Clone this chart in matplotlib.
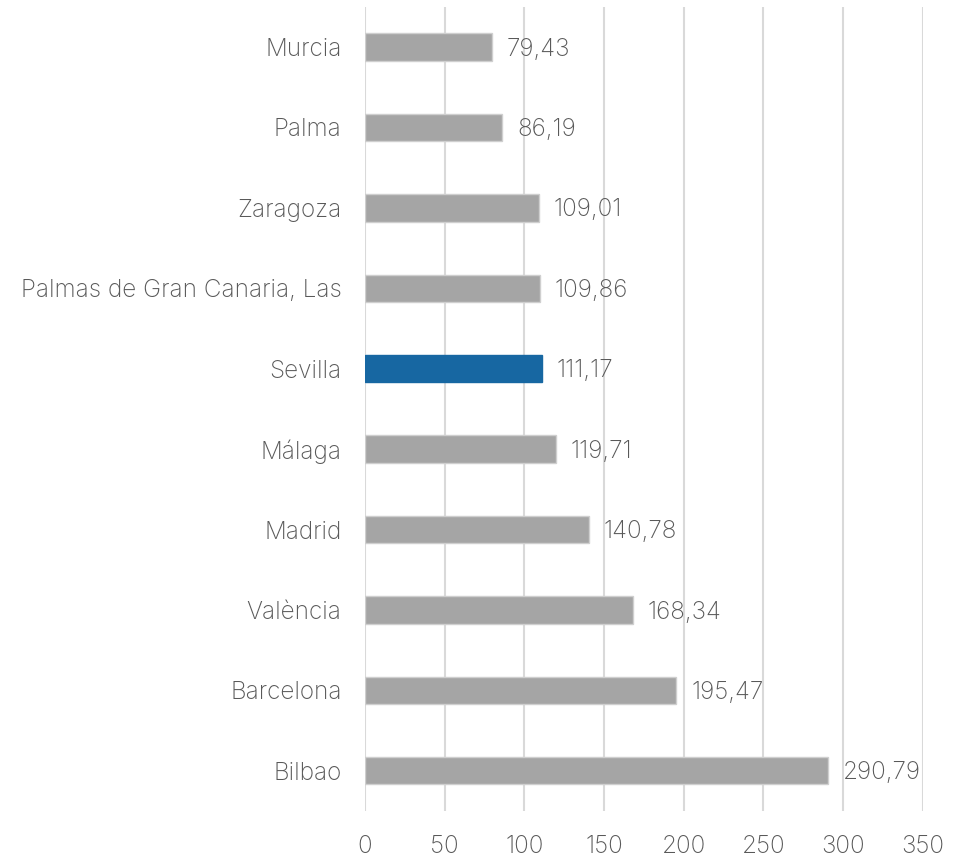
import matplotlib.pyplot as plt
import numpy as np

# Data (bottom to top)
cities = ["Bilbao", "Barcelona", "València", "Madrid", "Málaga", "Sevilla",
          "Palmas de Gran Canaria, Las", "Zaragoza", "Palma", "Murcia"]
values = [290.79, 195.47, 168.34, 140.78, 119.71, 111.17,
          109.86, 109.01, 86.19, 79.43]
highlight = "Sevilla"
x_ticks = [0, 50, 100, 150, 200, 250, 300, 350]

plt.rcParams['font.family'] = ['Inter', 'DejaVu Sans']

grey = "#A5A5A5"
blue = "#1767A2"
text_col = "#595959"
fsize = 17.5

fig = plt.figure(figsize=(9.66, 8.57), dpi=100)
ax = fig.add_axes([0.378, 0.0537, 0.577, 0.9383])

y = np.arange(len(cities))
colors = [blue if c == highlight else grey for c in cities]
edges = [blue if c == highlight else "#CFCFCF" for c in cities]
ax.barh(y, values, height=0.34, color=colors, edgecolor=edges, linewidth=1, zorder=3)

for yi, v in zip(y, values):
    ax.annotate(f"{v:.2f}".replace(".", ","), xy=(v, yi), xytext=(10.5, -1.5),
                textcoords="offset points", va="center", ha="left",
                fontsize=fsize, color=text_col, fontweight="light")

ax.set_xlim(0, 350)
ax.set_ylim(-0.5, len(cities) - 0.5)
ax.set_xticks(x_ticks)
ax.set_xticklabels([str(t) for t in x_ticks])
ax.set_yticks(y)
ax.set_yticklabels(cities)
ax.tick_params(axis="y", length=0, pad=17, labelsize=fsize, labelcolor=text_col)
ax.tick_params(axis="x", length=0, pad=17, labelsize=fsize, labelcolor=text_col)
for lbl in ax.get_xticklabels() + ax.get_yticklabels():
    lbl.set_fontweight("light")

ax.grid(axis="x", color="#D9D9D9", linewidth=1.5, zorder=0)
for s in ax.spines.values():
    s.set_visible(False)

fig.savefig("out.png", dpi=100)
